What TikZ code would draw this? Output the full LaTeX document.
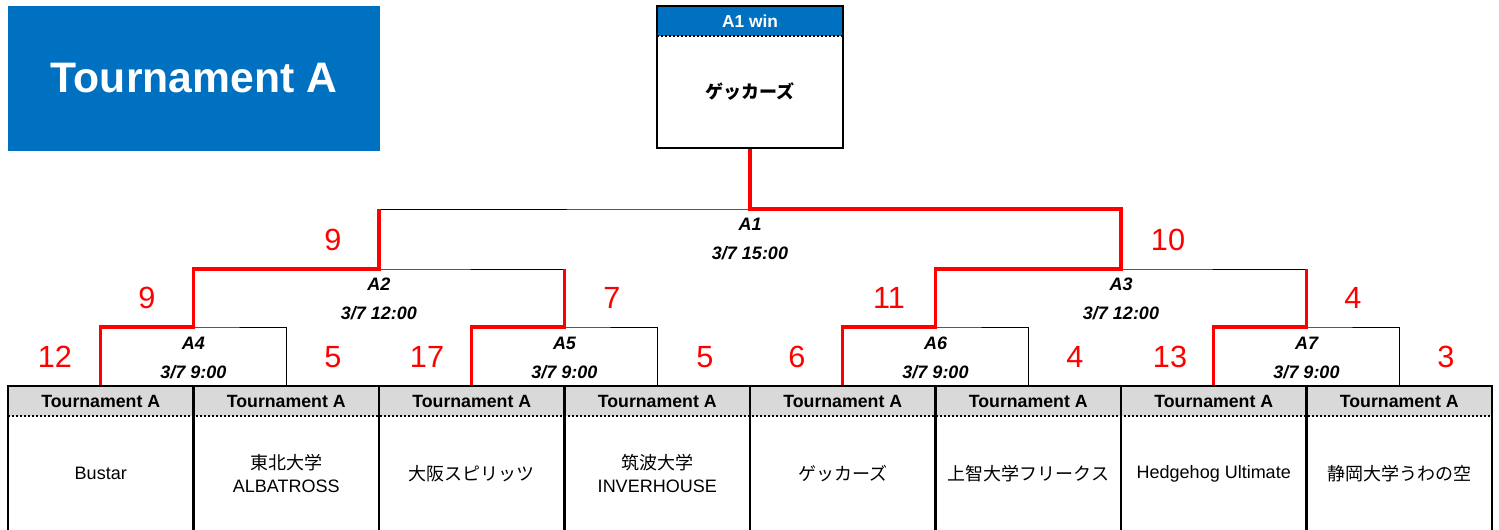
\documentclass[tikz,border=0pt]{standalone}
\usepackage{fontspec}
\setmainfont{Liberation Sans}
\newfontfamily\jp{Noto Sans CJK JP}
\usetikzlibrary{positioning}

\definecolor{titleblue}{HTML}{0070C0}
\definecolor{headgray}{HTML}{D9D9D9}
\definecolor{winred}{HTML}{FF0000}

\begin{document}
\begin{tikzpicture}[x=0.75pt, y=-0.75pt]
    % Styles
    \tikzstyle{title} = [fill=titleblue, text=white, minimum width=279pt, minimum height=108.75pt, inner sep=0pt, outer sep=0pt, font=\fontsize{32}{38}\selectfont\bfseries]
    \tikzstyle{header} = [fill=headgray, minimum width=139.1pt, minimum height=22.5pt, inner sep=0pt, outer sep=0pt, font=\fontsize{13.3}{16}\selectfont\bfseries]
    \tikzstyle{team} = [minimum width=139.1pt, minimum height=86.25pt, inner sep=0pt, outer sep=0pt, align=center, font=\fontsize{13.5}{17}\selectfont]
    \tikzstyle{win header} = [header, fill=titleblue, text=white, minimum width=139.5pt, font=\fontsize{13}{15}\selectfont\bfseries]
    \tikzstyle{win team} = [team, minimum width=139.5pt, minimum height=84pt, font=\fontsize{13.5}{17}\selectfont\bfseries]
    \tikzstyle{match} = [align=center, font=\fontsize{13.5}{21.75}\selectfont\bfseries\itshape]
    \tikzstyle{score} = [text=winred, font=\fontsize{23}{23}\selectfont]
    \tikzstyle{frame} = [line width=1.5pt]
    \tikzstyle{dots} = [line width=1.1pt, dash pattern=on 1.5pt off 1.5pt]
    \tikzstyle{bracket} = [line width=0.75pt]
    \tikzstyle{win} = [draw=winred, line width=2.3pt]

    \useasboundingbox (0,0) rectangle (1499,529);

    % Title and winner
    \node[title] (title) at (194,78.5) {Tournament A};
    \node[win header] (wh) at (750,21) {A1 win};
    \node[win team, below=0pt of wh] (winner) {\jp\bfseries ゲッカーズ};

    % Teams
    \node[header] (h1) at (100.75,401) {Tournament A};
    \node[header] (h2) at (286.25,401) {Tournament A};
    \node[header] (h3) at (471.75,401) {Tournament A};
    \node[header] (h4) at (657.25,401) {Tournament A};
    \node[header] (h5) at (842.75,401) {Tournament A};
    \node[header] (h6) at (1028.25,401) {Tournament A};
    \node[header] (h7) at (1213.75,401) {Tournament A};
    \node[header] (h8) at (1399.25,401) {Tournament A};
    \node[team, below=0pt of h1] (t1) {Bustar};
    \node[team, below=0pt of h2] (t2) {{\jp 東北大学}\\ALBATROSS};
    \node[team, below=0pt of h3] (t3) {\jp 大阪スピリッツ};
    \node[team, below=0pt of h4] (t4) {{\jp 筑波大学}\\INVERHOUSE};
    \node[team, below=0pt of h5] (t5) {\jp ゲッカーズ};
    \node[team, below=0pt of h6] (t6) {\jp 上智大学フリークス};
    \node[team, below=0pt of h7] (t7) {Hedgehog Ultimate};
    \node[team, below=0pt of h8] (t8) {\jp 静岡大学うわの空};

    % Matches
    \coordinate (a4) at (193.5,327);
    \coordinate (a5) at (564.5,327);
    \coordinate (a6) at (935.5,327);
    \coordinate (a7) at (1306.5,327);
    \coordinate (a2) at (379,269);
    \coordinate (a3) at (1121,269);
    \coordinate (a1) at (750,209);
    \node[match] (m4) at (193.5,357.5) {A4\\3/7 9:00};
    \node[match] (m5) at (564.5,357.5) {A5\\3/7 9:00};
    \node[match] (m6) at (935.5,357.5) {A6\\3/7 9:00};
    \node[match] (m7) at (1306.5,357.5) {A7\\3/7 9:00};
    \node[match] (m2) at (379,298.5) {A2\\3/7 12:00};
    \node[match] (m3) at (1121,298.5) {A3\\3/7 12:00};
    \node[match] (m1) at (750,239) {A1\\3/7 15:00};

    % Scores
    \node[score] (s1) at (55,357) {12};
    \node[score] (s2) at (333,357) {5};
    \node[score] (s3) at (427,357) {17};
    \node[score] (s4) at (705,357) {5};
    \node[score] (s5) at (797,357) {6};
    \node[score] (s6) at (1075,357) {4};
    \node[score] (s7) at (1170,357) {13};
    \node[score] (s8) at (1446,357) {3};
    \node[score] (s9) at (147,298) {9};
    \node[score] (s10) at (612,298) {7};
    \node[score] (s11) at (889,298) {11};
    \node[score] (s12) at (1353,298) {4};
    \node[score] (s13) at (333,240) {9};
    \node[score] (s14) at (1168,240) {10};

    % Brackets
    \draw[bracket] (h1.north) |- (a4) -| (h2.north);
    \draw[bracket] (h3.north) |- (a5) -| (h4.north);
    \draw[bracket] (h5.north) |- (a6) -| (h6.north);
    \draw[bracket] (h7.north) |- (a7) -| (h8.north);
    \draw[bracket] (a4) |- (a2) -| (a5);
    \draw[bracket] (a6) |- (a3) -| (a7);
    \draw[bracket] (a2) |- (a1) -| (a3);

    % Winning paths
    \draw[win] (h1.north) |- (a4) |- (a2) -- (a2 |- a1);
    \draw[win] (h3.north) |- (a5) -- (a5 |- a2);
    \draw[win] (h7.north) |- (a7) -- (a7 |- a3);
    \draw[win] (h5.north) |- (a6) |- (a3) |- (a1) -- (winner.south);

    % Frames
    \draw[frame] (wh.north west) rectangle (winner.south east);
    \draw[dots] (wh.south west) -- (wh.south east);
    \draw[frame] (h1.north west) rectangle (t1.south east);
    \draw[frame] (h2.north west) rectangle (t2.south east);
    \draw[frame] (h3.north west) rectangle (t3.south east);
    \draw[frame] (h4.north west) rectangle (t4.south east);
    \draw[frame] (h5.north west) rectangle (t5.south east);
    \draw[frame] (h6.north west) rectangle (t6.south east);
    \draw[frame] (h7.north west) rectangle (t7.south east);
    \draw[frame] (h8.north west) rectangle (t8.south east);
    \draw[dots] (h1.south west) -- (h8.south east);
\end{tikzpicture}
\end{document}
